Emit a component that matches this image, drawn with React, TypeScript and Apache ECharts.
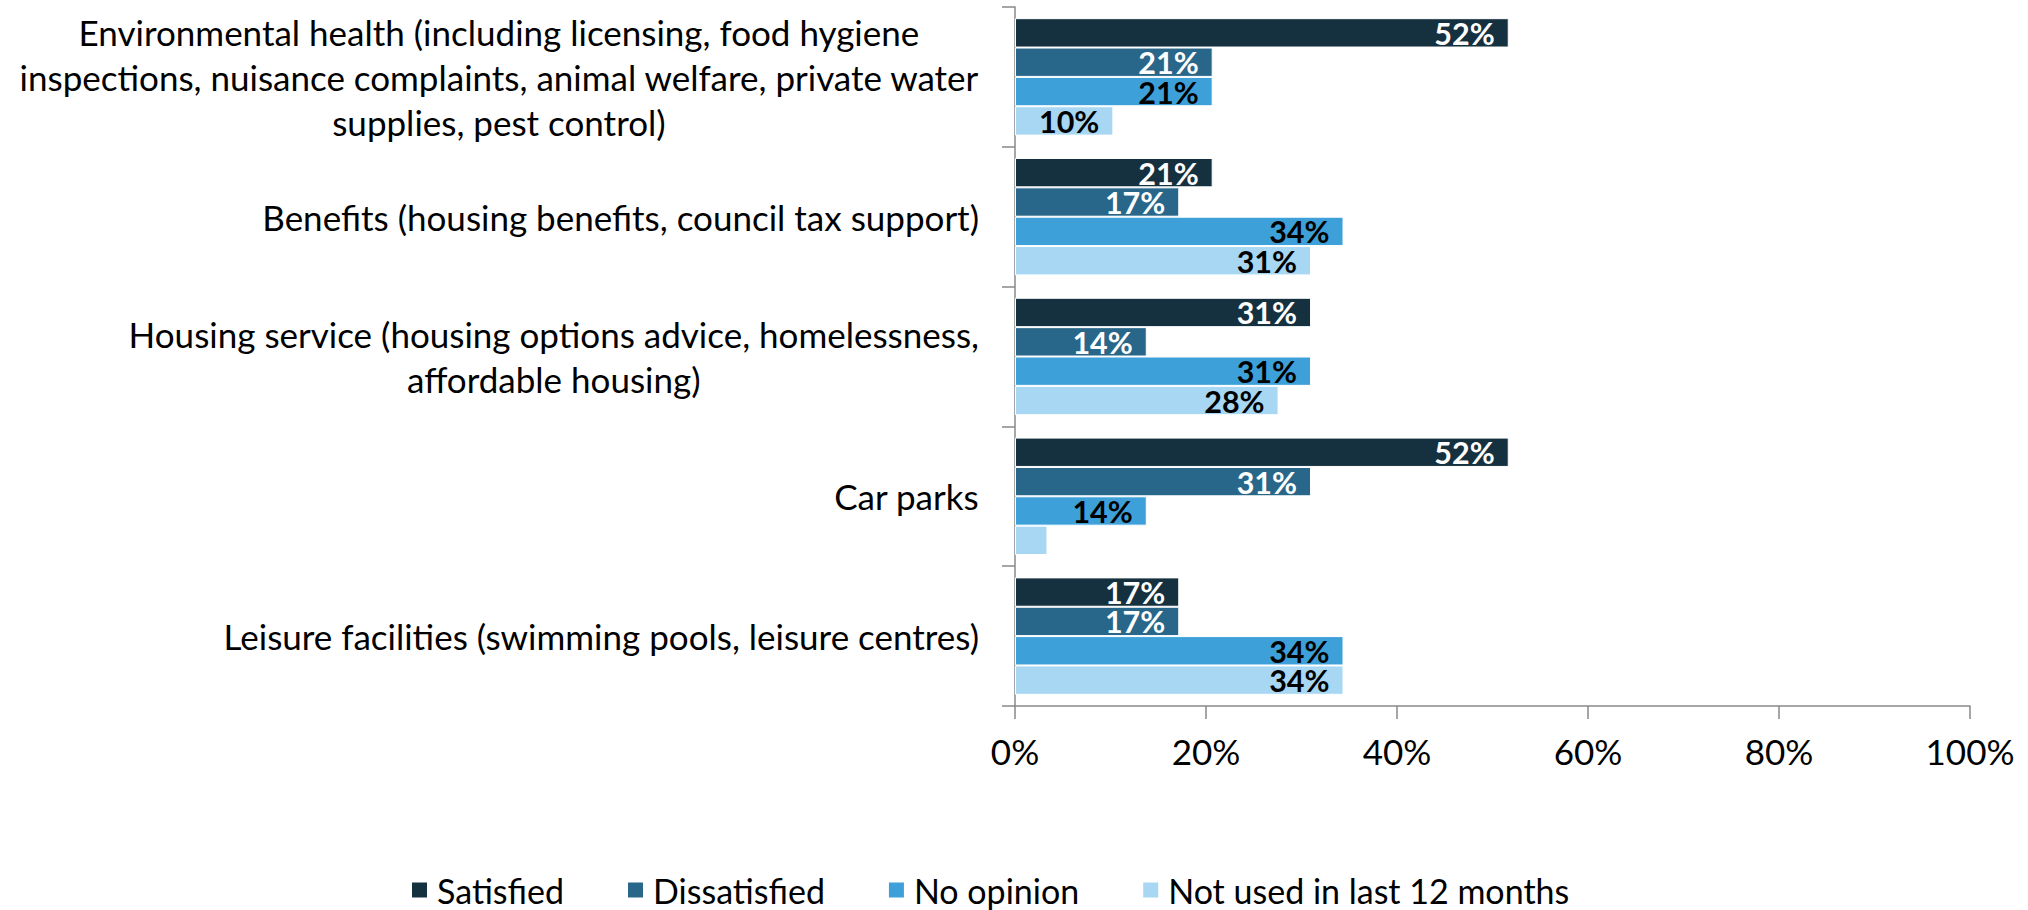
import React, { useEffect, useRef } from "react";
import * as echarts from "echarts";

const categories = [
  "Environmental health (including licensing, food hygiene\ninspections, nuisance complaints, animal welfare, private water\nsupplies, pest control)",
  "Benefits (housing benefits, council tax support)",
  "Housing service (housing options advice, homelessness,\naffordable housing)",
  "Car parks",
  "Leisure facilities (swimming pools, leisure centres)",
];

const seriesNames = ["Satisfied", "Dissatisfied", "No opinion", "Not used in last 12 months"];
const satisfied = [51.7, 20.7, 31.0, 51.7, 17.2];
const dissatisfied = [20.7, 17.2, 13.8, 31.0, 17.2];
const noOpinion = [20.7, 34.4, 31.0, 13.8, 34.4];
const notUsed = [10.3, 31.0, 27.6, 3.4, 34.4];
const xTicks = [0, 20, 40, 60, 80, 100];

const colors = ["#15303F", "#28678A", "#3DA0D9", "#A7D7F2"];
const labelColors = ["#ffffff", "#ffffff", "#000000", "#000000"];
const FONT = "Lato";

export default function App() {
  const ref = useRef<HTMLDivElement>(null);
  useEffect(() => {
    if (!ref.current) return;
    const chart = echarts.init(ref.current, undefined, { renderer: "svg" });
    const allValues = [satisfied, dissatisfied, noOpinion, notUsed];
    chart.setOption({
      animation: false,
      backgroundColor: "#ffffff",
      grid: { left: 1015, right: 58, top: 7, bottom: 204, containLabel: false },
      legend: {
        data: seriesNames,
        left: 410,
        top: 872,
        padding: 0,
        icon: "rect",
        itemWidth: 17,
        itemHeight: 17,
        itemGap: 62,
        textStyle: {
          fontFamily: FONT,
          fontSize: 34,
          lineHeight: 36,
          color: "#000",
          padding: [0, 0, 0, 4],
        },
      },
      xAxis: {
        type: "value",
        min: xTicks[0],
        max: xTicks[xTicks.length - 1],
        interval: xTicks[1] - xTicks[0],
        axisLine: { show: true, lineStyle: { color: "#898989", width: 1.5 } },
        axisTick: { show: true, length: 13, lineStyle: { color: "#898989", width: 1.5 } },
        splitLine: { show: false },
        axisLabel: {
          formatter: "{value}%",
          fontFamily: FONT,
          fontSize: 35,
          color: "#000",
          margin: 27,
        },
      },
      yAxis: {
        type: "category",
        data: categories,
        inverse: true,
        axisLine: { show: true, lineStyle: { color: "#898989", width: 1.5 } },
        axisTick: { show: true, length: 13, lineStyle: { color: "#898989", width: 1.5 } },
        axisLabel: {
          interval: 0,
          align: "right",
          margin: 36,
          formatter: (v: string) =>
            v
              .split("\n")
              .map((l) => `{c|${l}}`)
              .join("\n"),
          rich: {
            c: {
              align: "center",
              fontFamily: FONT,
              fontSize: 35,
              lineHeight: 45,
              color: "#000",
            },
          },
        },
      },
      series: seriesNames.map((name, i) => ({
        name,
        type: "bar",
        barGap: "0%",
        barCategoryGap: "16%",
        itemStyle: { color: colors[i], borderColor: "#ffffff", borderWidth: 1 },
        label: {
          show: true,
          position: "insideRight",
          distance: 14,
          fontFamily: FONT,
          fontWeight: "bold",
          fontSize: 30.5,
          lineHeight: 26,
          color: labelColors[i],
          formatter: (p: any) => Math.round(p.value) + "%",
        },
        data: allValues[i].map((v) =>
          v < 5 ? { value: v, label: { show: false } } : v
        ),
      })),
    });
    return () => chart.dispose();
  }, []);
  return (
    <div
      ref={ref}
      style={{ position: "absolute", left: 0, top: 0, width: 2028, height: 910 }}
    />
  );
}
